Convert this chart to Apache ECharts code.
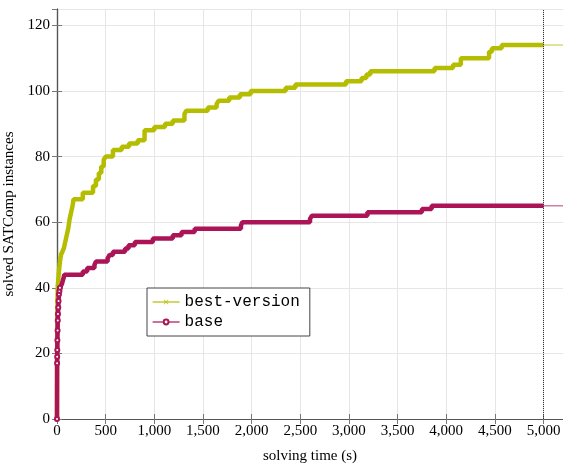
<!DOCTYPE html>
<html>
<head>
<meta charset="utf-8">
<script src="https://cdn.jsdelivr.net/npm/echarts@6/dist/echarts.min.js"></script>
<style>
  html, body { margin: 0; padding: 0; background: #fff; }
  #chart { width: 563px; height: 463px; }
</style>
</head>
<body>
<div id="chart"></div>
<script>
// times (s) at which the solved count changes, and the new count
const bestTime = [0, 1, 2, 3, 5, 8, 12, 20, 30, 40, 55, 70, 85, 100, 115, 130, 145, 160, 170, 265,
  370, 400, 430, 455, 480, 500, 575, 665, 740, 830, 900, 1000, 1110, 1190, 1310, 1330, 1550, 1640, 1660, 1770,
  1880, 1990, 2350, 2450, 2970, 3130, 3180, 3220, 3880, 4070, 4150, 4440, 4470, 4570, 5000];
const bestSolved = [0, 17, 24, 30, 36, 40, 42, 45, 48, 50, 51, 52, 54, 56, 58, 61, 63, 65, 67, 69,
  71, 73, 75, 77, 79, 80, 82, 83, 84, 85, 88, 89, 90, 91, 93, 94, 95, 96, 97, 98,
  99, 100, 101, 102, 103, 104, 105, 106, 107, 108, 110, 112, 113, 114, 114];

const baseTime = [0, 1, 2, 3, 4, 6, 8, 10, 13, 16, 20, 25, 30, 48, 58, 68, 75, 265, 310, 385,
  400, 520, 540, 575, 700, 735, 800, 985, 1190, 1280, 1415, 1890, 1905, 2600, 2620, 3190, 3750, 3850, 5000];
const baseSolved = [0, 17, 19, 21, 24, 27, 30, 32, 34, 36, 38, 39, 40, 41, 42, 43, 44, 45, 46, 47,
  48, 49, 50, 51, 52, 53, 54, 55, 56, 57, 58, 59, 60, 61, 62, 63, 64, 65, 65];

const timeout = 5000;
const xMax = 5200;
const yMax = 125;

const bestColor = '#b5bd00';
const baseColor = '#ab1457';
const crossPath = 'path://M0,1L1,0L5,4L9,0L10,1L6,5L10,9L9,10L5,6L1,10L0,9L4,5Z';
const serif = '"Liberation Serif", "DejaVu Serif", serif';

// markers only drawn on the dense part near t=0, the rest is the thick band
const toPoints = (times, counts) => times.map((t, i) => {
  const p = { value: [t, counts[i]] };
  if (t > 40) p.symbol = 'none';
  return p;
});

const chart = echarts.init(document.getElementById('chart'));

const tickStyle = { show: true, inside: true, length: 5, lineStyle: { color: '#777', width: 1 } };
const borderLine = { show: true, lineStyle: { color: '#555', width: 1.2 } };

chart.setOption({
  animation: false,
  grid: { left: 57, top: 9, right: 0, bottom: 44, outerBoundsMode: 'none' },
  legend: {
    data: ['best-version', 'base'],
    orient: 'vertical',
    left: 147,
    top: 288,
    padding: [6, 10, 6, 5],
    itemGap: 4,
    itemWidth: 27,
    itemHeight: 6,
    backgroundColor: '#fff',
    borderColor: '#444',
    borderWidth: 1,
    borderRadius: 0,
    lineStyle: { width: 1.2 },
    textStyle: { fontFamily: '"Liberation Mono", "DejaVu Sans Mono", monospace', fontSize: 16, color: '#000' }
  },
  xAxis: [
    {
      type: 'value', min: 0, max: xMax, interval: 500,
      name: 'solving time (s)', nameLocation: 'middle', nameGap: 30,
      nameTextStyle: { fontFamily: serif, fontSize: 15, color: '#000' },
      axisLine: borderLine, axisTick: tickStyle,
      axisLabel: {
        margin: 5, fontFamily: serif, fontSize: 15, color: '#000', showMaxLabel: false,
        formatter: v => v.toLocaleString('en-US')
      },
      splitLine: { show: true, lineStyle: { color: '#e6e6e6', width: 1 } }
    },
    {
      type: 'value', position: 'top', min: 0, max: xMax, interval: 500,
      axisLine: borderLine, axisTick: tickStyle, axisLabel: { show: false }, splitLine: { show: false }
    }
  ],
  yAxis: [
    {
      type: 'value', min: 0, max: yMax, interval: 20,
      name: 'solved SATComp instances', nameLocation: 'middle', nameGap: 33,
      nameTextStyle: { fontFamily: serif, fontSize: 15, color: '#000' },
      axisLine: borderLine, axisTick: tickStyle,
      axisLabel: { margin: 7, fontFamily: serif, fontSize: 15, color: '#000', showMaxLabel: false },
      splitLine: { show: true, lineStyle: { color: '#e6e6e6', width: 1 } }
    },
    {
      type: 'value', position: 'right', min: 0, max: yMax, interval: 20,
      axisLine: borderLine, axisTick: tickStyle, axisLabel: { show: false }, splitLine: { show: false }
    }
  ],
  series: [
    {
      name: 'best-version',
      type: 'line',
      step: 'end',
      symbol: crossPath,
      symbolSize: 5,
      showAllSymbol: true,
      color: bestColor,
      itemStyle: { color: bestColor },
      lineStyle: { color: bestColor, width: 4.5 },
      data: toPoints(bestTime, bestSolved),
      markLine: {
        silent: true,
        symbol: ['none', 'none'],
        label: { show: false },
        lineStyle: { type: 'dotted', color: '#333', width: 1 },
        data: [{ xAxis: timeout }]
      },
      z: 2
    },
    {
      name: 'base',
      type: 'line',
      step: 'end',
      symbol: 'emptyCircle',
      symbolSize: 4,
      showAllSymbol: true,
      color: baseColor,
      itemStyle: { color: baseColor, borderWidth: 1 },
      lineStyle: { color: baseColor, width: 4.5 },
      data: toPoints(baseTime, baseSolved),
      z: 3
    },
    // thin continuation after the timeout
    {
      name: 'best-tail',
      type: 'line',
      symbol: 'none',
      lineStyle: { color: bestColor, width: 1.5, opacity: 0.55 },
      data: [[timeout, bestSolved[bestSolved.length - 1]], [xMax, bestSolved[bestSolved.length - 1]]]
    },
    {
      name: 'base-tail',
      type: 'line',
      symbol: 'none',
      lineStyle: { color: baseColor, width: 1.5, opacity: 0.55 },
      data: [[timeout, baseSolved[baseSolved.length - 1]], [xMax, baseSolved[baseSolved.length - 1]]]
    }
  ]
});
</script>
</body>
</html>
